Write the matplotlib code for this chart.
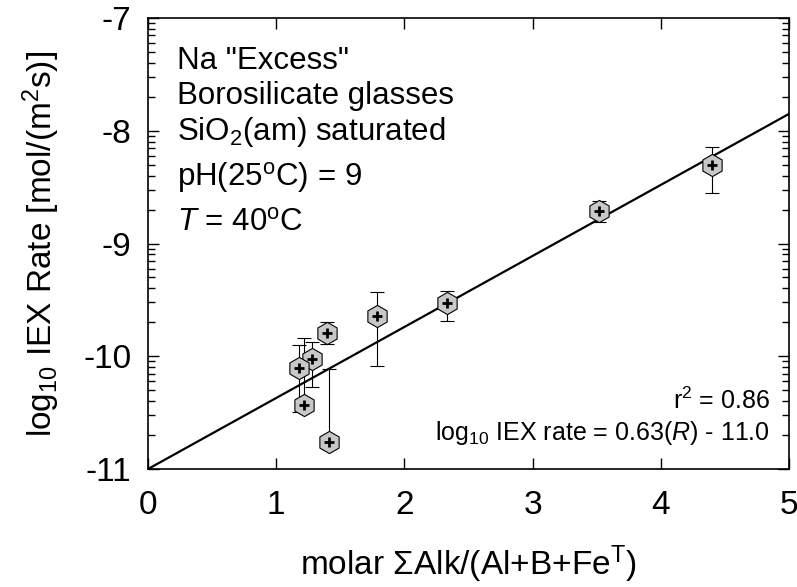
import numpy as np
import matplotlib
matplotlib.use("Agg")
import matplotlib.pyplot as plt
from matplotlib.ticker import FixedLocator

plt.rcParams['font.family'] = ['Liberation Sans', 'DejaVu Sans']
plt.rcParams['mathtext.fontset'] = 'custom'
plt.rcParams['mathtext.rm'] = 'Liberation Sans'
plt.rcParams['mathtext.it'] = 'Liberation Sans:italic'
plt.rcParams['mathtext.bf'] = 'Liberation Sans:bold'
plt.rcParams['axes.unicode_minus'] = False

# molar sum Alk/(Al+B+Fe) vs log10 IEX rate
ratio = [4.40, 3.52, 2.33, 1.79, 1.40, 1.28, 1.18, 1.22, 1.41]
log_rate = [-8.30, -8.71, -9.53, -9.64, -9.79, -10.02, -10.10, -10.43, -10.76]
err_lo = [0.25, 0.10, 0.16, 0.45, 0.10, 0.25, 0.39, 0.05, 0.05]
err_hi = [0.16, 0.09, 0.11, 0.21, 0.09, 0.15, 0.20, 0.59, 0.65]

slope = 0.63
intercept = -11.0

fig = plt.figure(figsize=(7.97, 5.87), dpi=100)
ax = fig.add_axes([0.1857, 0.201, 0.8043, 0.7683])

xfit = np.array([0, 5])
ax.plot(xfit, slope * xfit + intercept, color='black', lw=1.6, zorder=2)

ax.errorbar(ratio, log_rate, yerr=[err_lo, err_hi], fmt='none',
            ecolor='black', elinewidth=0.8, capsize=5, capthick=0.8, zorder=3)
ax.plot(ratio, log_rate, 'h', ms=16, mfc='#c8c8c8', mec='black', mew=0.8, zorder=4)
ax.plot(ratio, log_rate, '+', ms=7, color='black', mew=2, zorder=5)

ax.set_xlim(0, 5)
ax.set_ylim(-11, -7)
ax.set_xticks([0, 1, 2, 3, 4, 5])
ax.set_yticks([-11, -10, -9, -8, -7])
minor = [d + np.log10(k) for d in range(-11, -7) for k in range(2, 10)]
ax.yaxis.set_minor_locator(FixedLocator(minor))
ax.tick_params(which='both', direction='in', top=True, right=True, width=1)
ax.tick_params(which='major', length=8, labelsize=24)
ax.tick_params(axis='x', which='major', pad=15)
ax.tick_params(axis='y', which='major', pad=12)
ax.tick_params(which='minor', length=5)
for s in ax.spines.values():
    s.set_linewidth(1.2)

ax.set_xlabel(r'molar $\Sigma$Alk/(Al+B+Fe$^{\rm T}$)', fontsize=24, labelpad=16)
ax.set_ylabel(r'log$_{10}$ IEX Rate [mol/(m$^2$s)]', fontsize=24, labelpad=15)

tx = 0.045
fs = 22.5
ax.text(tx, 0.887, 'Na "Excess"', transform=ax.transAxes, fontsize=fs, va='baseline')
ax.text(tx, 0.809, 'Borosilicate glasses', transform=ax.transAxes, fontsize=fs, va='baseline')
ax.text(tx, 0.729, r'SiO$_2$(am) saturated', transform=ax.transAxes, fontsize=fs, va='baseline')
ax.text(tx, 0.627, r'pH(25$^{\rm o}$C) = 9', transform=ax.transAxes, fontsize=fs, va='baseline')
ax.text(tx, 0.528, r'$\it{T}$ = 40$^{\rm o}$C', transform=ax.transAxes, fontsize=fs, va='baseline')

ax.text(0.97, 0.133, r'r$^2$ = 0.86', transform=ax.transAxes, fontsize=18,
        ha='right', va='baseline')
ax.text(0.97, 0.064, r'log$_{10}$ IEX rate = 0.63($\it{R}$) - 11.0',
        transform=ax.transAxes, fontsize=18, ha='right', va='baseline')

fig.savefig('out.png', dpi=100)
